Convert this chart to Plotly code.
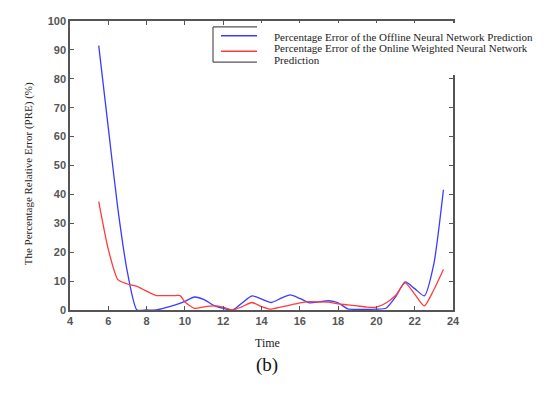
import plotly.graph_objects as go

# Data
time_offline = [5.5, 6.0, 6.5, 7.0, 7.5, 8.0, 8.5, 9.0, 9.5, 10.0, 10.5, 11.0, 11.5, 12.0, 12.5,
                13.0, 13.5, 14.0, 14.5, 15.0, 15.5, 16.0, 16.5, 17.0, 17.5, 18.0, 18.5, 19.0,
                19.5, 20.0, 20.5, 21.0, 21.5, 22.0, 22.5, 23.0, 23.5]
pre_offline = [91.5, 63, 35, 13, 0, 0, 0, 0.8, 1.8, 3, 4.5, 3.6, 1.6, 0.6, 0,
               2.5, 4.9, 3.8, 2.6, 4, 5.2, 4, 2.5, 2.8, 3.2, 2.5, 0.4, 0.2,
               0.2, 0.3, 0.6, 4.5, 9.7, 7.4, 4.9, 16, 41.6]

time_online = [5.5, 6.0, 6.5, 7.0, 7.5, 8.0, 8.5, 9.0, 9.5, 9.75, 10.0, 10.5, 11.0, 11.5, 12.0,
               12.5, 13.0, 13.5, 14.0, 14.5, 15.0, 15.5, 16.0, 16.5, 17.0, 17.5, 18.0, 18.5,
               19.0, 19.5, 20.0, 20.5, 21.0, 21.5, 22.0, 22.5, 23.0, 23.5]
pre_online = [37.5, 21, 10.5, 9, 8.2, 6.5, 5, 5, 5, 5.0, 2.8, 0.6, 1.1, 1.4, 1.0,
              0, 1.2, 2.6, 1.2, 0.3, 1, 1.7, 2.5, 2.9, 2.8, 2.7, 2.1, 1.8,
              1.4, 1.0, 1.0, 2.4, 5, 9.4, 5.5, 1.4, 7, 14]

x_ticks = [4, 6, 8, 10, 12, 14, 16, 18, 20, 22, 24]
y_ticks = [0, 10, 20, 30, 40, 50, 60, 70, 80, 90, 100]

legend_names = ["Percentage Error of the Offline Neural Network Prediction",
                "Percentage Error of the Online Weighted Neural Network Prediction"]
legend_lines = ["Percentage Error of the Offline Neural Network Prediction",
                "Percentage Error of the Online Weighted Neural Network",
                "Prediction"]

BLUE = "#3b3bff"
RED = "#ff3b3b"

fig = go.Figure()
fig.add_trace(go.Scatter(x=time_offline, y=pre_offline, mode="lines", name=legend_names[0],
                         line=dict(color=BLUE, width=1.3, shape="spline", smoothing=0.6)))
fig.add_trace(go.Scatter(x=time_online, y=pre_online, mode="lines", name=legend_names[1],
                         line=dict(color=RED, width=1.3, shape="spline", smoothing=0.6)))

OFF = 8  # default page body margin
L, R, T, B = 70 - OFF, 453 - OFF, 15 - OFF, 310 - OFF
W, H = 548 - OFF, 397 - OFF
pw, ph = R - L, B - T


def px(x):
    return (x - OFF - L) / pw


def py(y):
    return (B - (y - OFF)) / ph


axis_common = dict(showline=True, linecolor="#555555", linewidth=1.5, mirror="ticks",
                   ticks="inside", ticklen=4, tickwidth=1.2, tickcolor="#555555",
                   showgrid=False, zeroline=False,
                   tickfont=dict(family="Liberation Sans, Arial", size=11, color="#555555",
                                 weight="bold"))

fig.update_layout(
    width=W, height=H,
    margin=dict(l=L, r=W - R, t=T, b=H - B),
    paper_bgcolor="white", plot_bgcolor="white",
    showlegend=False,
    xaxis=dict(range=[4, 24], tickvals=x_ticks, **axis_common),
    yaxis=dict(range=[0, 100], tickvals=y_ticks, **axis_common),
)

# White legend panel that hides the top of the right axis, as in the reference
fig.add_shape(type="rect", xref="paper", yref="paper", layer="above",
              x0=px(258), y0=py(17), x1=px(470), y1=py(70),
              fillcolor="white", line=dict(width=0))

# Legend box (open on the right, as in the reference)
box_col = "#555555"
lx0, lx1, ly0, ly1 = 213, 257, 21, 57
for (a, b, c, d) in [(lx0, ly0, lx1, ly0), (lx0, ly1, lx1, ly1), (lx0, ly0, lx0, ly1)]:
    fig.add_shape(type="line", xref="paper", yref="paper", x0=px(a), y0=py(b), x1=px(c), y1=py(d),
                  line=dict(color=box_col, width=1.2))
fig.add_shape(type="line", xref="paper", yref="paper", x0=px(221), y0=py(30), x1=px(257), y1=py(30),
              line=dict(color=BLUE, width=1.5))
fig.add_shape(type="line", xref="paper", yref="paper", x0=px(221), y0=py(46), x1=px(257), y1=py(46),
              line=dict(color=RED, width=1.5))

serif = "Liberation Serif, Times New Roman, serif"
for txt, yy in zip(legend_lines, [31, 43, 55]):
    fig.add_annotation(xref="paper", yref="paper", x=px(272), y=py(yy), xanchor="left",
                       yanchor="middle", align="left", showarrow=False, text=txt,
                       font=dict(family=serif, size=11, color="#222222"))

# Axis titles and caption
fig.add_annotation(xref="paper", yref="paper", x=px(20), y=py(171), textangle=-90, showarrow=False,
                   text="The Percentage Relative Error (PRE) (%)",
                   font=dict(family=serif, size=11, color="#222222"))
fig.add_annotation(xref="paper", yref="paper", x=px(267), y=py(353), showarrow=False,
                   text="Time", font=dict(family=serif, size=12, color="#222222"))
fig.add_annotation(xref="paper", yref="paper", x=px(267), y=py(379), showarrow=False,
                   text="(b)", font=dict(family=serif, size=19, color="#111111"))

fig.write_html("out.html")
